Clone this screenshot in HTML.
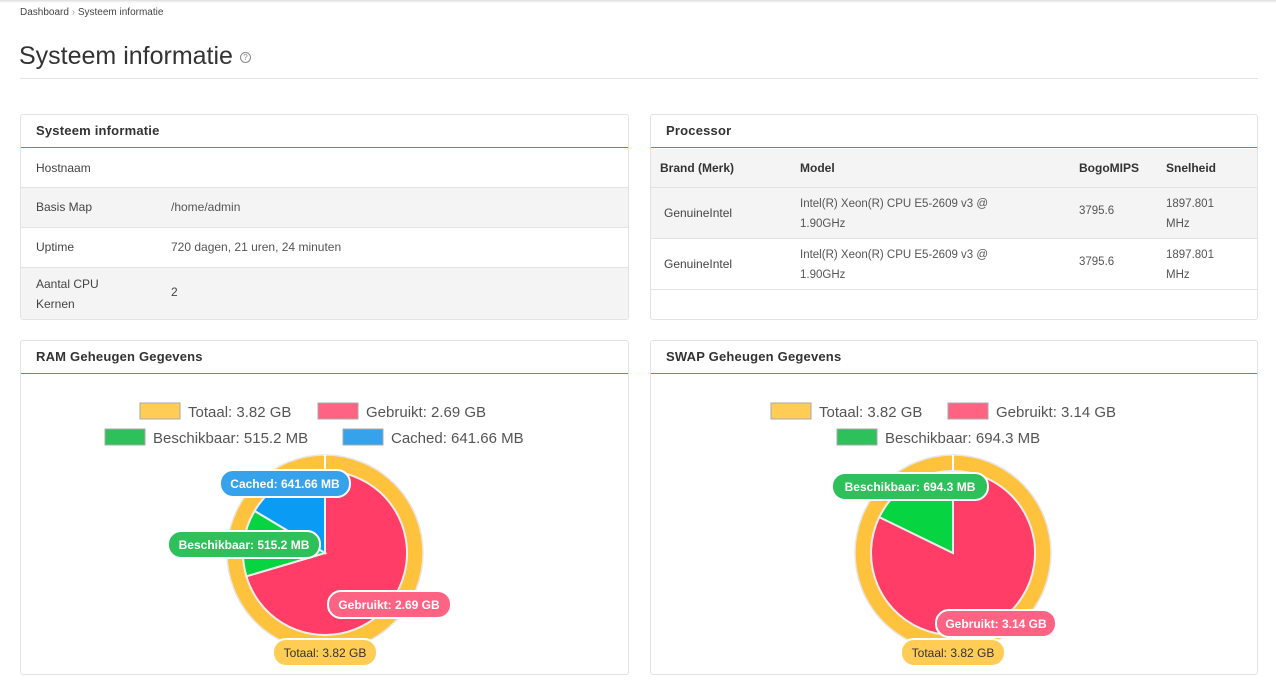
<!DOCTYPE html>
<html><head><meta charset="utf-8"><style>
*{box-sizing:border-box;margin:0;padding:0}
body{width:1276px;height:693px;background:#fff;font-family:"Liberation Sans",sans-serif;color:#333;position:relative;overflow:hidden}
.a{position:absolute;white-space:nowrap}
.panel{position:absolute;border:1px solid #e3e3e3;border-radius:3px;background:#fff}
.hd{position:absolute;left:0;right:0;top:0;height:33px;border-bottom:1.5px solid #3a93d8;font-size:13px;font-weight:bold;color:#333;padding:8px 0 0 15px;letter-spacing:.2px}
.row{position:absolute;left:0;right:0;border-bottom:1px solid #e3e3e3;font-size:12px;color:#444}
.g{background:#f4f4f4}
</style></head><body>
<div style="position:absolute;left:0;right:0;top:0;height:3px;background:linear-gradient(#ddd,#fff)"></div>
<div class="a" style="left:20px;top:7px;font-size:10px;color:#444">Dashboard <span style="color:#aaa">›</span> Systeem informatie</div>
<div class="a" style="left:19px;top:42px;font-size:25px;color:#333">Systeem informatie <span style="display:inline-block;width:11px;height:11px;border:1px solid #888;border-radius:50%;font-size:8px;line-height:9px;text-align:center;color:#888;vertical-align:middle">?</span></div>
<div style="position:absolute;left:20px;top:78px;width:1238px;height:1px;background:#e3e3e3"></div>

<div class="panel" style="left:20px;top:114px;width:609px;height:206px">
<div class="hd">Systeem informatie</div>
<div class="row" style="top:34px;height:39px"><span class="a" style="left:15px;top:12px">Hostnaam</span></div>
<div class="row g" style="top:73px;height:40px"><span class="a" style="left:15px;top:12px">Basis Map</span><span class="a" style="left:150px;top:12px;color:#555">/home/admin</span></div>
<div class="row" style="top:113px;height:40px"><span class="a" style="left:15px;top:12px">Uptime</span><span class="a" style="left:150px;top:12px;color:#555">720 dagen, 21 uren, 24 minuten</span></div>
<div class="row g" style="top:153px;height:51px;border:none"><span class="a" style="left:15px;top:6px;line-height:20px">Aantal CPU<br>Kernen</span><span class="a" style="left:150px;top:17px">2</span></div>
</div>

<div class="panel" style="left:650px;top:114px;width:608px;height:206px">
<div class="hd">Processor</div>
<div class="row g" style="top:34px;height:39px;font-weight:bold;color:#333;font-size:12px"><span class="a" style="left:9px;top:12px">Brand (Merk)</span><span class="a" style="left:149px;top:12px">Model</span><span class="a" style="left:428px;top:12px">BogoMIPS</span><span class="a" style="left:515px;top:12px">Snelheid</span></div>
<div class="row g" style="top:73px;height:51px"><span class="a" style="left:13px;top:18px">GenuineIntel</span><span class="a" style="left:149px;top:6px;line-height:20px;font-size:11.5px;color:#555">Intel(R) Xeon(R) CPU E5-2609 v3 @<br>1.90GHz</span><span class="a" style="left:428px;top:17px;font-size:11.5px;color:#555">3795.6</span><span class="a" style="left:515px;top:6px;line-height:20px;font-size:11.5px;color:#555">1897.801<br>MHz</span></div>
<div class="row" style="top:124px;height:51px"><span class="a" style="left:13px;top:18px">GenuineIntel</span><span class="a" style="left:149px;top:6px;line-height:20px;font-size:11.5px;color:#555">Intel(R) Xeon(R) CPU E5-2609 v3 @<br>1.90GHz</span><span class="a" style="left:428px;top:17px;font-size:11.5px;color:#555">3795.6</span><span class="a" style="left:515px;top:6px;line-height:20px;font-size:11.5px;color:#555">1897.801<br>MHz</span></div>
</div>

<div class="panel" style="left:20px;top:340px;width:609px;height:335px"><div class="hd">RAM Geheugen Gegevens</div></div>
<div class="panel" style="left:650px;top:340px;width:608px;height:335px"><div class="hd">SWAP Geheugen Gegevens</div></div>

<svg class="a" style="left:0;top:0" width="1276" height="693" font-family="Liberation Sans, sans-serif">
<g font-size="15" fill="#555">
<rect x="140" y="403" width="40" height="16" fill="#ffcd56" stroke="#aaa"/><text x="188" y="417">Totaal: 3.82 GB</text>
<rect x="318" y="403" width="40" height="16" fill="#ff6384" stroke="#aaa"/><text x="366" y="417">Gebruikt: 2.69 GB</text>
<rect x="105" y="429" width="40" height="16" fill="#2ec05a" stroke="#aaa"/><text x="153" y="443">Beschikbaar: 515.2 MB</text>
<rect x="343" y="429" width="40" height="16" fill="#36a2eb" stroke="#aaa"/><text x="391" y="443">Cached: 641.66 MB</text>
<rect x="771" y="403" width="40" height="16" fill="#ffcd56" stroke="#aaa"/><text x="819" y="417">Totaal: 3.82 GB</text>
<rect x="948" y="403" width="40" height="16" fill="#ff6384" stroke="#aaa"/><text x="996" y="417">Gebruikt: 3.14 GB</text>
<rect x="837" y="429" width="40" height="16" fill="#2ec05a" stroke="#aaa"/><text x="885" y="443">Beschikbaar: 694.3 MB</text>
</g>
<circle cx="325" cy="553" r="98" fill="#ffc23d" stroke="#e6e6e6" stroke-width="1.5"/>
<line x1="325" y1="455" x2="325" y2="471" stroke="#fff" stroke-width="2"/>
<path d="M325,553 L325,471 A82,82 0 1 1 246.4,576.3 Z" fill="#ff3d67" stroke="#eee" stroke-width="2"/>
<path d="M325,553 L246.4,576.3 A82,82 0 0 1 254.6,510.9 Z" fill="#06d440" stroke="#eee" stroke-width="2"/>
<path d="M325,553 L254.6,510.9 A82,82 0 0 1 325,471 Z" fill="#0a9bf5" stroke="#eee" stroke-width="2"/>
<circle cx="953" cy="553" r="98" fill="#ffc23d" stroke="#e6e6e6" stroke-width="1.5"/>
<line x1="953" y1="455" x2="953" y2="471" stroke="#fff" stroke-width="2"/>
<path d="M953,553 L953,471 A82,82 0 1 1 879.3,517.1 Z" fill="#ff3d67" stroke="#eee" stroke-width="2"/>
<path d="M953,553 L879.3,517.1 A82,82 0 0 1 953,471 Z" fill="#06d440" stroke="#eee" stroke-width="2"/>
<g font-size="12" font-weight="bold" text-anchor="middle">
<rect x="220" y="470" width="130" height="27" rx="13" fill="#36a2eb" stroke="#fff" stroke-width="2"/><text x="285" y="488" fill="#fff">Cached: 641.66 MB</text>
<rect x="168" y="531" width="152" height="27" rx="13" fill="#2ec05a" stroke="#fff" stroke-width="2"/><text x="244" y="549" fill="#fff">Beschikbaar: 515.2 MB</text>
<rect x="328" y="591" width="123" height="27" rx="13" fill="#ff6384" stroke="#fff" stroke-width="2"/><text x="389" y="609" fill="#fff">Gebruikt: 2.69 GB</text>
<rect x="273" y="639" width="104" height="27" rx="13" fill="#ffcd56" stroke="#fff" stroke-width="2"/><text x="325" y="657" fill="#333" font-weight="normal">Totaal: 3.82 GB</text>
<rect x="832" y="473" width="156" height="27" rx="13" fill="#2ec05a" stroke="#fff" stroke-width="2"/><text x="910" y="491" fill="#fff">Beschikbaar: 694.3 MB</text>
<rect x="936" y="610" width="120" height="27" rx="13" fill="#ff6384" stroke="#fff" stroke-width="2"/><text x="996" y="628" fill="#fff">Gebruikt: 3.14 GB</text>
<rect x="901" y="639" width="104" height="27" rx="13" fill="#ffcd56" stroke="#fff" stroke-width="2"/><text x="953" y="657" fill="#333" font-weight="normal">Totaal: 3.82 GB</text>
</g>
</svg>
</body></html>
